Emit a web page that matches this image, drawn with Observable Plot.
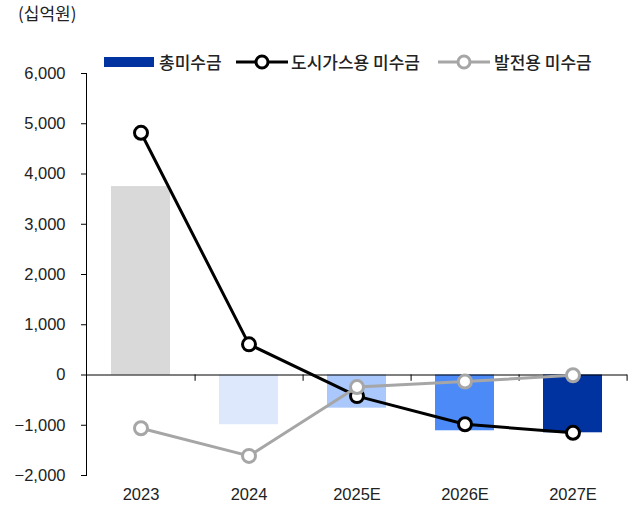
<!DOCTYPE html>
<html>
<head>
<meta charset="utf-8">
<script src="https://cdn.jsdelivr.net/npm/d3@7"></script>
<script src="https://cdn.jsdelivr.net/npm/@observablehq/plot@0.6"></script>
<style>
  html, body { margin: 0; padding: 0; background: #fff; }
  #wrap { position: relative; width: 635px; height: 513px; overflow: hidden; }
  .kr { font-family: "Noto Sans CJK KR", "Noto Sans", sans-serif; color: #222; position: absolute; white-space: nowrap; }
  #unit { left: 18px; top: 0px; font-size: 17px; }
  .leg { font-size: 17px; top: 49px; font-weight: 500; }
  svg.icon { position: absolute; }
</style>
</head>
<body>
<div id="wrap">
  <div id="unit" class="kr">(십억원)</div>
</div>
<script>
const years = ["2023", "2024", "2025E", "2026E", "2027E"];
const totalUnpaid = [3750, -990, -660, -1110, -1150];
const cityGasUnpaid = [4820, 610, -420, -980, -1150];
const powerUnpaid = [-1060, -1610, -240, -130, -5];
const barColors = ["#d9d9d9", "#dde8fc", "#aac8fb", "#4c8bf7", "#0033a0"];
const yTicks = [-2000, -1000, 0, 1000, 2000, 3000, 4000, 5000, 6000];
const legendLabels = ["총미수금", "도시가스용 미수금", "발전용 미수금"];

const bars = years.map((y, i) => ({year: y, value: totalUnpaid[i], color: barColors[i]}));
const city = years.map((y, i) => ({year: y, value: cityGasUnpaid[i]}));
const power = years.map((y, i) => ({year: y, value: powerUnpaid[i]}));

const W = 635, H = 513, mL = 86, mR = 8;
const step = (W - mL - mR) / years.length;

const chart = Plot.plot({
  width: W, height: H,
  marginLeft: mL, marginRight: mR, marginTop: 73, marginBottom: 38,
  style: {fontFamily: "'Liberation Sans Narrow', 'Arial Narrow', 'Liberation Sans', sans-serif", fontSize: "16.5px", color: "#222", background: "transparent"},
  x: {domain: years, paddingInner: 0.45, paddingOuter: 0.225, axis: null},
  y: {domain: [-2000, 6000], axis: null},
  color: {type: "identity"},
  marks: [
    Plot.barY(bars, {x: "year", y: "value", fill: "color"}),
    Plot.ruleY([0], {stroke: "#000", strokeWidth: 1}),
    Plot.ruleX(years, {x: d => d, dx: step / 2, y1: 0, y2: -125, stroke: "#000", strokeWidth: 1}),
    Plot.frame({anchor: "left", stroke: "#000", strokeWidth: 1}),
    Plot.axisY({ticks: yTicks, tickSize: 5, tickPadding: 16, tickFormat: d3.format(","), fontSize: 16.5, stroke: "#000", label: null}),
    Plot.axisX({tickSize: 0, tickPadding: 13, fontSize: 16.5, label: null}),
    Plot.line(city, {x: "year", y: "value", stroke: "#000", strokeWidth: 3}),
    Plot.dot(city, {x: "year", y: "value", r: 6.5, fill: "#fff", stroke: "#000", strokeWidth: 3}),
    Plot.line(power, {x: "year", y: "value", stroke: "#a6a6a6", strokeWidth: 3}),
    Plot.dot(power, {x: "year", y: "value", r: 6.5, fill: "#fff", stroke: "#a6a6a6", strokeWidth: 3})
  ]
});
chart.style.position = "absolute";
chart.style.left = "0px";
chart.style.top = "0px";
const wrap = document.getElementById("wrap");
wrap.appendChild(chart);

// Legend (HTML overlay)
function addIcon(x, kind, color) {
  const ns = "http://www.w3.org/2000/svg";
  const s = document.createElementNS(ns, "svg");
  s.setAttribute("class", "icon");
  s.setAttribute("width", 56); s.setAttribute("height", 20);
  s.style.left = x + "px"; s.style.top = "52px";
  if (kind === "rect") {
    const r = document.createElementNS(ns, "rect");
    r.setAttribute("x", 0); r.setAttribute("y", 5); r.setAttribute("width", 50); r.setAttribute("height", 10);
    r.setAttribute("fill", color);
    s.appendChild(r);
  } else {
    const l = document.createElementNS(ns, "line");
    l.setAttribute("x1", 0); l.setAttribute("x2", 52); l.setAttribute("y1", 10); l.setAttribute("y2", 10);
    l.setAttribute("stroke", color); l.setAttribute("stroke-width", 3);
    s.appendChild(l);
    const c = document.createElementNS(ns, "circle");
    c.setAttribute("cx", 26); c.setAttribute("cy", 10); c.setAttribute("r", 6);
    c.setAttribute("fill", "#fff"); c.setAttribute("stroke", color); c.setAttribute("stroke-width", 3);
    s.appendChild(c);
  }
  wrap.appendChild(s);
}
function addLabel(x, text) {
  const d = document.createElement("div");
  d.className = "kr leg";
  d.style.left = x + "px";
  d.textContent = text;
  wrap.appendChild(d);
}
addIcon(104, "rect", "#0033a0");
addLabel(159, legendLabels[0]);
addIcon(236, "line", "#000");
addLabel(291, legendLabels[1]);
addIcon(438, "line", "#a6a6a6");
addLabel(494, legendLabels[2]);
</script>
</body>
</html>
